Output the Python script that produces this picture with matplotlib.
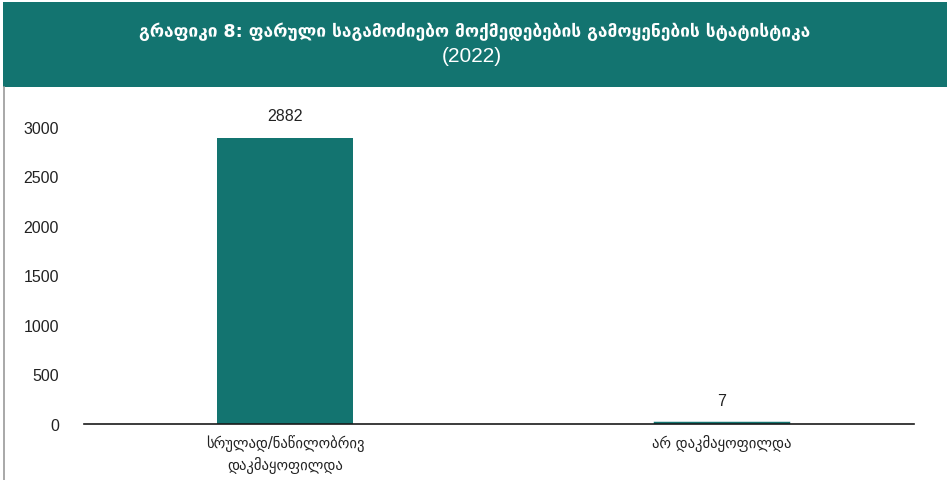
import matplotlib
matplotlib.use("Agg")
import matplotlib.pyplot as plt
from matplotlib.patches import Rectangle
from matplotlib.lines import Line2D

# Data
categories = ["სრულად/ნაწილობრივ\nდაკმაყოფილდა", "არ დაკმაყოფილდა"]
values = [2882, 7]
yticks = [0, 500, 1000, 1500, 2000, 2500, 3000]
title_lines = ["გრაფიკი 8: ფარული საგამოძიებო მოქმედებების გამოყენების სტატისტიკა", "(2022)"]

TEAL = "#137470"
TEXT = "#222222"

W, H = 947, 481
fig = plt.figure(figsize=(W / 100, H / 100), dpi=100)
fig.patch.set_facecolor("white")

# Header band
fig.patches.append(Rectangle((3 / W, 1 - 88 / H), 1 - 3 / W, 85 / H,
                             transform=fig.transFigure, facecolor=TEAL,
                             edgecolor="none", zorder=0))
# Left frame line below the header
fig.lines.append(Line2D([4 / W, 4 / W], [0, 1 - 88 / H], transform=fig.transFigure,
                        color="#9a9a9a", linewidth=1.2))

fig.text(475 / W, 1 - 32 / H, title_lines[0], ha="center", va="center",
         color="white", fontsize=12.5, fontweight="bold", family="DejaVu Sans")
fig.text(472 / W, 1 - 57 / H, title_lines[1], ha="center", va="center",
         color="white", fontsize=15, family="Liberation Sans")

ax = fig.add_axes([84 / W, (H - 425) / H, (914 - 84) / W, (425 - 105) / H])
x = list(range(len(categories)))
# the tiny second bar gets an outline so it stays visible on the axis
ax.bar(x, values, width=[0.312, 0.305], color=TEAL, edgecolor=TEAL,
       linewidth=[0, 2.5], zorder=2)
ax.set_xlim(-0.462, 1.442)
ax.set_ylim(0, 3230)

for xi, v in zip(x, values):
    ax.annotate(f"{v}", (xi, v), xytext=(0, 11), textcoords="offset points",
                ha="center", va="bottom", fontsize=11.5, color=TEXT,
                family="Liberation Sans")

ax.set_yticks(yticks)
ax.set_yticklabels([str(t) for t in yticks], family="Liberation Sans", fontsize=11.5, color=TEXT)
ax.tick_params(axis="y", length=0, pad=18)
ax.set_xticks(x)
ax.set_xticklabels(categories, family="DejaVu Sans", fontsize=10.5, color=TEXT, linespacing=1.4)
ax.tick_params(axis="x", length=0, pad=7)

for s in ["top", "right", "left"]:
    ax.spines[s].set_visible(False)
ax.spines["bottom"].set_color("#1a1a1a")
ax.spines["bottom"].set_linewidth(1.2)
ax.spines["bottom"].set_zorder(3)

fig.savefig("out.png", dpi=100)
